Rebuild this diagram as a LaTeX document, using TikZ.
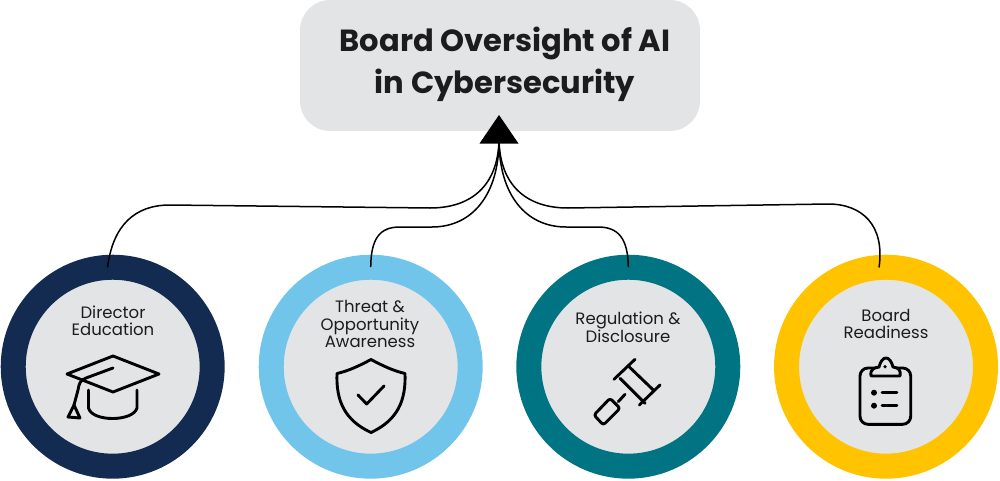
\documentclass[tikz,border=0pt]{standalone}
\usepackage{fontspec}
\setmainfont{Poppins}
\usetikzlibrary{calc}
\definecolor{navyring}{HTML}{132B51}
\definecolor{skyring}{HTML}{72C5EA}
\definecolor{tealring}{HTML}{007482}
\definecolor{yellowring}{HTML}{FFC300}
\definecolor{panelgray}{HTML}{E3E4E6}
\definecolor{inkblack}{HTML}{1C1C1E}
\tikzset{
  ring/.style={circle, draw=#1, fill=panelgray, line width=0.5cm, minimum size=3.98cm, inner sep=0pt, outer sep=0pt},
  ringlabel/.style={align=center, font=\fontsize{9.4}{10}\selectfont, text=inkblack, inner sep=0pt},
  titlebox/.style={fill=panelgray, rounded corners=0.6cm, minimum width=8cm, minimum height=2.62cm, inner sep=0pt},
  link/.style={draw=black, line width=0.03cm},
  icon/.style={draw=black, line width=0.058cm, line cap=round, line join=round},
}
\begin{document}
\begin{tikzpicture}[x=0.02cm, y=-0.02cm]
  \useasboundingbox (0,0) rectangle (1000,480);
  \node[titlebox] (title) at (500,65.5) {};
  \node[font=\fontsize{17.4}{24}\selectfont\bfseries, align=center, text=inkblack, inner sep=0pt] (titletext) at (505,64) {Board Oversight of AI\\in Cybersecurity};

  \node[ring=navyring] (director) at (112.7,366.7) {};
  \node[ring=skyring] (threat) at (370.7,366.7) {};
  \node[ring=tealring] (regulation) at (628.3,366.7) {};
  \node[ring=yellowring] (readiness) at (886,366.7) {};

  \node[ringlabel] (directortext) at (113,321) {Director\\Education};
  \node[ringlabel] (threattext) at (370,324) {Threat \&\\Opportunity\\Awareness};
  \node[ringlabel] (regulationtext) at (628,327) {Regulation \&\\Disclosure};
  \node[ringlabel] (readinesstext) at (886,324) {Board\\Readiness};

  % connectors
  \coordinate (tip) at (499,140);
  \draw[link] (director.93) .. controls (113,225) and (135,205) .. (170,205) -- (430,208) .. controls (472,208) and (498,185) .. (tip);
  \draw[link] (threat.90) .. controls (371,238) and (380,227) .. (400,227) -- (432,227) .. controls (472,227) and (499,195) .. (tip);
  \draw[link] (regulation.90) .. controls (628,238) and (618,227) .. (598,227) -- (566,227) .. controls (526,227) and (499,195) .. (tip);
  \draw[link] (readiness.94) .. controls (885,225) and (862,204) .. (828,204) -- (568,208) .. controls (526,208) and (500,185) .. (tip);
  \fill[black] (499,115) -- (518.5,143.5) -- (479.5,143.5) -- cycle;

  % cap
  \draw[icon] (67,374) -- (113,356) -- (159,374) -- (113,392) -- cycle;
  \draw[icon] (113,368) -- (86,378) .. controls (80,380) and (79,384) .. (78,390) -- (74,405);
  \draw[icon] (74,405) -- (68,417) -- (80,418) -- cycle;
  \draw[icon] (88.5,390) -- (88.5,408) .. controls (92,422) and (133,422) .. (137,408) -- (137,390);

  % shield
  \draw[icon] (371,359.5) .. controls (383,366) and (394,371) .. (405,373.5) .. controls (406,400) and (398,420) .. (371,432.5) .. controls (344,420) and (336,400) .. (337,373.5) .. controls (348,371) and (359,366) .. cycle;
  \draw[icon] (358,395) -- (366.7,404) -- (384,386);

  % gavel
  \draw[icon] (614,379.3) -- (635,359.3);
  \draw[icon] (639.3,405) -- (660,385);
  \draw[icon] (628.3,366) -- (653.3,390);
  \draw[icon] (620,378.3) -- (645,403.3);
  \draw[icon] (625,394.3) -- (618.3,401.7);
  \draw[icon, rounded corners=0.05cm] (610,398.3) -- (620,408.3) -- (603.3,425) -- (594,415) -- cycle;

  % clipboard
  \draw[icon, rounded corners=0.16cm] (860,368) rectangle (910.7,424.3);
  \draw[icon, fill=panelgray] (871,376) -- (900,376) .. controls (901,369) and (898,368) .. (893,367) .. controls (890,355) and (882,355) .. (879,367) .. controls (874,368) and (870,369) .. cycle;
  \fill[black] (885,366.7) circle (1.8);
  \fill[black] (874,392.7) circle (3);
  \fill[black] (874,405.7) circle (3);
  \draw[icon] (882,392.7) -- (897,392.7);
  \draw[icon] (882,405.7) -- (897,405.7);
\end{tikzpicture}
\end{document}
